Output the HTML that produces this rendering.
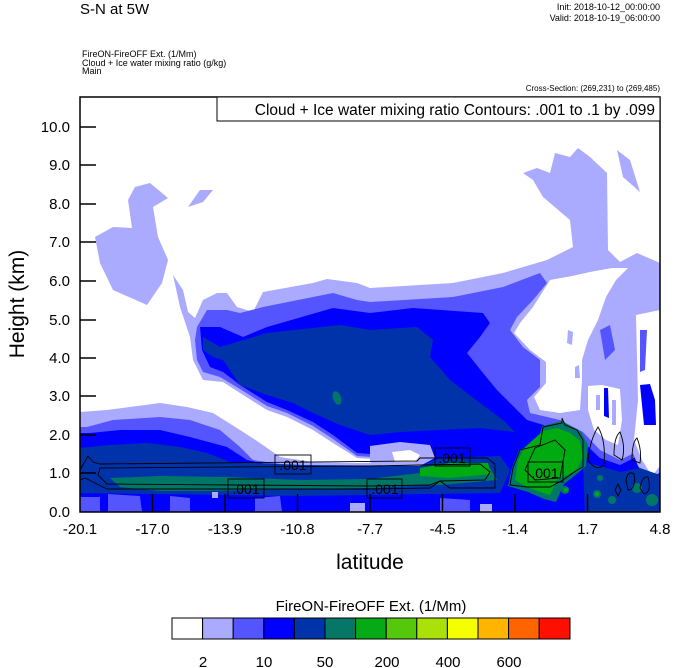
<!DOCTYPE html>
<html><head><meta charset="utf-8"><style>
html,body{margin:0;padding:0;background:#fff;}
svg{display:block;font-family:"Liberation Sans",sans-serif;}
</style></head><body>
<svg width="674" height="668" viewBox="0 0 674 668" xmlns="http://www.w3.org/2000/svg">
<text x="80" y="14" font-size="15">S-N at 5W</text>
<text x="660" y="10" font-size="9" text-anchor="end">Init: 2018-10-12_00:00:00</text>
<text x="660" y="21" font-size="9" text-anchor="end">Valid: 2018-10-19_06:00:00</text>
<text x="82" y="57" font-size="9">FireON-FireOFF Ext.   (1/Mm)</text>
<text x="82" y="66" font-size="9">Cloud + Ice water mixing ratio   (g/kg)</text>
<text x="82" y="74" font-size="9">Main</text>
<text x="660" y="91" font-size="8" text-anchor="end">Cross-Section: (269,231) to (269,485)</text>
<defs><clipPath id="c"><rect x="80" y="97" width="580" height="415"/></clipPath></defs>
<g clip-path="url(#c)">
<path fill="#aaaaff" d="M95,237 L113,227 L132,228 L128,200 L135,187 L150,183 L168,198 L153,207 L158,237 L168,260 L162,283 L147,305 L113,290 L100,263Z"/>
<path fill="#aaaaff" d="M188,207 L200,190 L213,190 L203,202Z"/>
<path fill="#aaaaff" d="M617,150 L630,160 L640,192 L623,177Z"/>
<path fill="#aaaaff" d="M173,275 L180,307 L190,337 L193,360 L203,380 L223,382 L240,393 L267,410 L287,417 L313,430 L333,443 L357,458 L420,462 L357,463 L313,462 L280,457 L260,443 L240,430 L213,413 L187,407 L160,403 L107,410 L80,412 L80,512 L660,512 L660,263 L637,253 L620,262 L608,250 L607,173 L590,157 L578,148 L570,157 L555,153 L550,173 L537,168 L523,173 L533,180 L543,197 L570,220 L573,247 L547,260 L503,273 L453,283 L370,288 L357,283 L327,279 L313,283 L263,292 L253,312 L237,307 L227,293 L217,293 L203,300 L195,318 L188,312 L183,290Z"/>
<path fill="#ffffff" d="M550,280 L533,307 L520,323 L514,333 L530,350 L546,362 L546,383 L534,397 L540,410 L560,413 L580,410 L582,380 L582,360 L588,340 L598,320 L606,297 L616,280 L628,268 L612,268 L590,272 L572,276Z"/>
<path fill="#aaaaff" d="M568,330 L573,332 L572,345 L567,343Z M575,367 L579,365 L580,378 L575,378Z"/>
<path fill="#5555ff" d="M197,327 L207,310 L227,310 L240,313 L263,307 L333,293 L357,300 L370,302 L453,297 L503,287 L540,273 L547,283 L533,300 L517,317 L510,330 L523,347 L540,360 L540,387 L527,400 L530,413 L560,420 L583,432 L600,450 L620,460 L640,450 L660,440 L660,512 L80,512 L80,427 L87,427 L113,420 L160,417 L190,420 L220,430 L240,447 L253,460 L280,464 L357,467 L420,467 L420,460 L357,456 L333,439 L313,426 L287,413 L267,406 L240,389 L220,377 L203,372 L197,360 L195,340Z"/>
<path fill="#0000ff" d="M200,327 L220,327 L243,337 L267,327 L333,308 L370,313 L413,308 L483,313 L490,323 L480,337 L467,353 L483,373 L497,390 L517,410 L527,420 L560,430 L583,442 L600,458 L620,465 L640,455 L660,420 L660,512 L80,512 L80,433 L90,433 L120,430 L160,430 L190,437 L227,447 L247,460 L280,467 L420,469 L425,458 L357,453 L333,435 L313,422 L287,410 L267,402 L240,385 L223,372 L210,367 L202,350Z"/>
<!-- right whites over blue -->
<path fill="#aaaaff" d="M584,382 L604,380 L624,385 L627,420 L622,452 L606,448 L590,438 L582,410Z"/>
<path fill="#ffffff" d="M588,386 L602,385 L620,389 L622,420 L618,445 L606,440 L594,430 L588,410Z"/>
<path fill="#aaaaff" d="M630,312 L660,305 L660,472 L650,482 L638,466 L628,440 L633,400Z"/>
<path fill="#ffffff" d="M636,315 L660,310 L660,466 L652,476 L642,460 L634,440 L638,400Z"/>
<path fill="#5555ff" d="M600,330 L610,325 L615,350 L605,360Z M640,330 L647,330 L645,370 L640,372Z"/>
<path fill="#0000ff" d="M640,385 L650,384 L655,400 L656,425 L644,425Z M604,388 L608,388 L609,418 L604,416Z"/>
<path fill="#aaaaff" d="M596,395 L600,395 L600,410 L596,410Z M612,400 L616,400 L616,425 L612,425Z"/>
<path fill="#0033aa" d="M203,337 L220,347 L267,333 L340,325 L370,330 L417,327 L433,340 L430,357 L450,380 L480,403 L503,420 L515,432 L480,428 L440,430 L400,432 L370,435 L340,425 L313,413 L293,403 L267,395 L240,385 L223,360 L213,357 L203,350Z"/>
<path fill="#aaaaff" d="M370,446 L400,442 L430,445 L435,458 L420,466 L380,466 L370,462Z"/>
<path fill="#ffffff" d="M392,452 L410,450 L420,455 L415,462 L395,462Z"/>
<path fill="#ffffff" d="M102,456 L112,454 L117,460 L107,462Z"/>
<path fill="#0033aa" d="M80,448 L110,445 L147,443 L180,447 L207,453 L230,462 L300,465 L420,466 L440,458 L500,456 L510,470 L505,482 L500,493 L300,496 L80,493Z"/>
<path fill="#0033aa" d="M583,462 L600,466 L620,472 L640,468 L660,475 L660,512 L585,512Z"/>
<path fill="#5555ff" d="M80,497 L100,497 L100,512 L80,512Z M108,494 L140,496 L142,512 L108,512Z M170,496 L190,498 L190,512 L170,512Z M255,498 L280,496 L282,512 L255,512Z M440,498 L470,500 L470,512 L440,512Z"/>
<path fill="#aaaaff" d="M212,492 L218,492 L218,498 L212,498Z M350,503 L365,503 L365,512 L350,512Z M480,504 L492,504 L492,512 L480,512Z"/>
<path fill="#007766" d="M110,478 L160,476 L227,477 L300,480 L370,479 L420,473 L490,468 L497,480 L440,485 L370,488 L300,489 L200,491 L160,491 L120,487Z"/>
<ellipse cx="337" cy="398" rx="4" ry="7" fill="#007766" transform="rotate(-20 337 398)"/>
<path fill="#00aa11" d="M420,468 L450,463 L488,463 L491,474 L450,478 L420,476Z"/>
<path fill="#007766" d="M508,486 L512,468 L519,450 L538,442 L542,426 L562,421 L581,432 L588,445 L586,466 L578,473 L564,484 L556,502 L544,499 L528,492Z"/>
<path fill="#00aa11" d="M515,480 L518,460 L525,447 L543,431 L557,428 L570,433 L580,441 L583,457 L577,470 L557,480 L550,495 L543,493 L527,487Z"/>
<g fill="#007766"><circle cx="565" cy="490" r="4"/><circle cx="597" cy="494" r="4"/><circle cx="612" cy="500" r="4"/><circle cx="637" cy="488" r="5"/><circle cx="652" cy="500" r="6"/><circle cx="600" cy="478" r="3"/></g>
<g fill="#00aa11"><circle cx="566" cy="490" r="2"/><circle cx="597" cy="494" r="2"/></g>
<g fill="none" stroke="#000" stroke-width="0.9">
<path d="M80,470 L88,456 L93,462 L100,464 L417,461 L420,458 L487,458 L495,464 L495,488 L450,488 L440,481 L430,488 L370,489 L107,489 L95,483 L85,478 L80,480"/>
<path d="M100,468 L370,466 L420,465 L480,464 L490,472 L485,480 L440,481 L430,485 L370,486 L107,484 L98,475Z"/>
<path d="M510,485 L513,468 L520,450 L540,445 L543,427 L562,423 L562,418 L565,425 L577,430 L583,440 L583,467 L577,470 L563,480 L550,487 L527,487Z"/>
<path d="M525,470 L535,448 L555,440 L565,450 L560,478 L535,480Z"/>
<path d="M588,460 Q590,440 598,427 Q606,440 604,465 Q596,472 588,460Z"/>
<path d="M614,455 Q614,437 620,432 Q626,447 622,460Z"/>
<path d="M632,460 Q632,442 637,438 Q642,450 640,463Z"/>
<path d="M640,488 Q642,476 648,477 Q652,492 644,494Z"/>
<path d="M615,490 L618,484 L621,490 L618,496Z"/>
<path d="M626,480 Q628,470 634,474 Q636,490 628,490Z"/>
</g>
<g fill="none" stroke="#000" stroke-width="0.9">
<rect x="275" y="455" width="36" height="19"/>
<rect x="228" y="479" width="36" height="19"/>
<rect x="367" y="479" width="35" height="19"/>
<rect x="435" y="448" width="35" height="18"/>
<rect x="528" y="462" width="35" height="20"/>
</g>
<g font-size="14" fill="#000">
<text x="293" y="470" text-anchor="middle">.001</text>
<text x="246" y="494" text-anchor="middle">.001</text>
<text x="385" y="494" text-anchor="middle">.001</text>
<text x="452" y="463" text-anchor="middle">.001</text>
<text x="545" y="478" text-anchor="middle">.001</text>
</g>
</g>
<rect x="80" y="97" width="580" height="415" fill="none" stroke="#000" stroke-width="1.5"/>
<rect x="217" y="97" width="443" height="24" fill="#fff" stroke="#000" stroke-width="1"/>
<text x="655" y="115" font-size="15.5" text-anchor="end">Cloud + Ice water mixing ratio Contours: .001 to .1 by .099</text>
<g stroke="#000" stroke-width="1.5">
<line x1="80" y1="127" x2="96" y2="127"/><line x1="80" y1="165" x2="96" y2="165"/><line x1="80" y1="204" x2="96" y2="204"/><line x1="80" y1="242" x2="96" y2="242"/><line x1="80" y1="281" x2="96" y2="281"/><line x1="80" y1="320" x2="96" y2="320"/><line x1="80" y1="358" x2="96" y2="358"/><line x1="80" y1="396" x2="96" y2="396"/><line x1="80" y1="435" x2="96" y2="435"/><line x1="80" y1="473" x2="96" y2="473"/>
<line x1="152.5" y1="512" x2="152.5" y2="494"/><line x1="225" y1="512" x2="225" y2="494"/><line x1="297.5" y1="512" x2="297.5" y2="494"/><line x1="370" y1="512" x2="370" y2="494"/><line x1="442.5" y1="512" x2="442.5" y2="494"/><line x1="515" y1="512" x2="515" y2="494"/><line x1="587.5" y1="512" x2="587.5" y2="494"/>
</g>
<g font-size="15" text-anchor="end">
<text x="70" y="132">10.0</text><text x="70" y="170">9.0</text><text x="70" y="209">8.0</text><text x="70" y="247">7.0</text><text x="70" y="286">6.0</text><text x="70" y="325">5.0</text><text x="70" y="363">4.0</text><text x="70" y="401">3.0</text><text x="70" y="440">2.0</text><text x="70" y="478">1.0</text><text x="70" y="517">0.0</text>
</g>
<g font-size="15" text-anchor="middle">
<text x="80" y="534">-20.1</text><text x="152.5" y="534">-17.0</text><text x="225" y="534">-13.9</text><text x="297.5" y="534">-10.8</text><text x="370" y="534">-7.7</text><text x="442.5" y="534">-4.5</text><text x="515" y="534">-1.4</text><text x="587.5" y="534">1.7</text><text x="660" y="534">4.8</text>
</g>
<text x="370" y="569" font-size="21" text-anchor="middle">latitude</text>
<text transform="translate(24,304) rotate(-90)" font-size="21" text-anchor="middle">Height (km)</text>
<text x="371" y="611" font-size="15" text-anchor="middle">FireON-FireOFF Ext.  (1/Mm)</text>
<g stroke="#000" stroke-width="1">
<rect x="172" y="618" width="30.6" height="21" fill="#ffffff"/>
<rect x="202.6" y="618" width="30.6" height="21" fill="#aaaaff"/>
<rect x="233.2" y="618" width="30.6" height="21" fill="#5555ff"/>
<rect x="263.8" y="618" width="30.6" height="21" fill="#0000ff"/>
<rect x="294.4" y="618" width="30.6" height="21" fill="#0033aa"/>
<rect x="325" y="618" width="30.6" height="21" fill="#067766"/>
<rect x="355.6" y="618" width="30.6" height="21" fill="#06aa16"/>
<rect x="386.2" y="618" width="30.6" height="21" fill="#55c80b"/>
<rect x="416.8" y="618" width="30.6" height="21" fill="#aae10a"/>
<rect x="447.4" y="618" width="30.6" height="21" fill="#f5ff00"/>
<rect x="478" y="618" width="30.6" height="21" fill="#ffb400"/>
<rect x="508.6" y="618" width="30.6" height="21" fill="#ff6400"/>
<rect x="539.2" y="618" width="30.8" height="21" fill="#ff0f00"/>
</g>
<g font-size="15" text-anchor="middle">
<text x="203" y="667">2</text><text x="264" y="667">10</text><text x="325" y="667">50</text><text x="387" y="667">200</text><text x="448" y="667">400</text><text x="509" y="667">600</text>
</g>
</svg>
</body></html>
